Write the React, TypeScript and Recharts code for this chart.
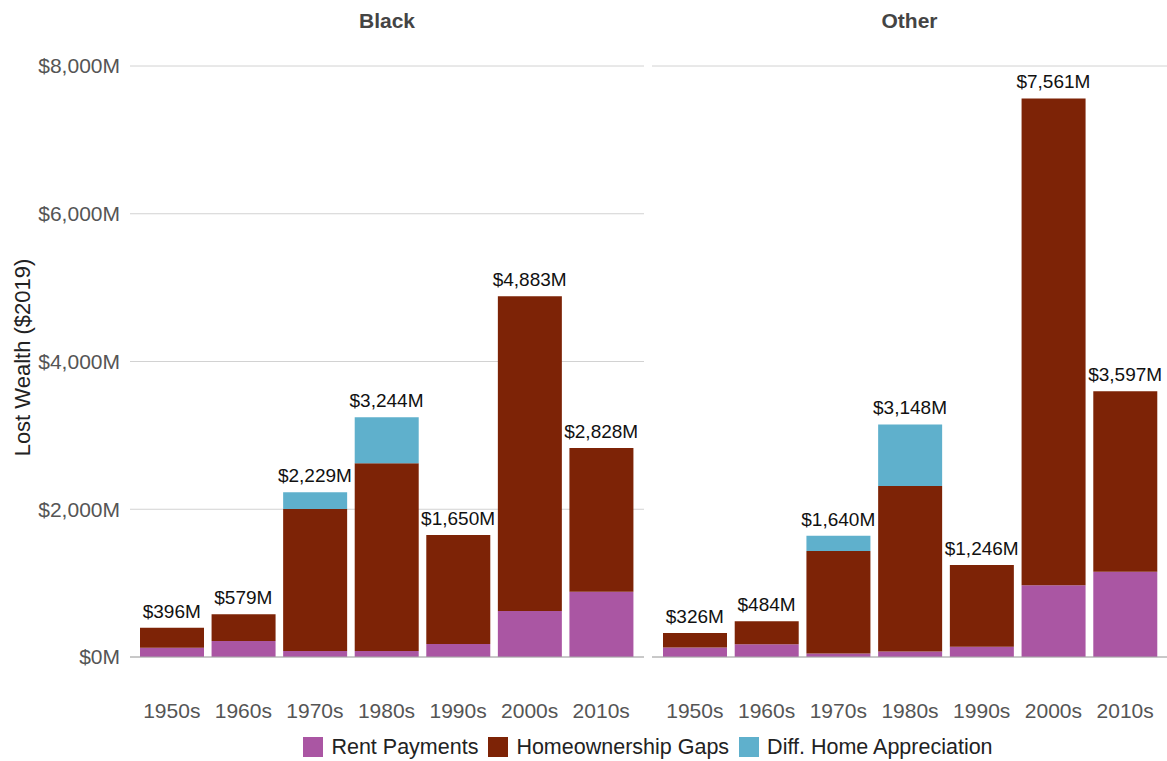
import React from 'react';
import { ComposedChart, Bar, Line, XAxis, YAxis, CartesianGrid, LabelList } from 'recharts';

const decades = ['1950s', '1960s', '1970s', '1980s', '1990s', '2000s', '2010s'];

const blackRent = [126, 217, 81, 80, 176, 623, 884];
const blackGaps = [270, 362, 1922, 2542, 1474, 4260, 1944];
const blackAppreciation = [0, 0, 226, 622, 0, 0, 0];
const blackTotals = [396, 579, 2229, 3244, 1650, 4883, 2828];

const otherRent = [127, 172, 47, 75, 140, 970, 1155];
const otherGaps = [199, 312, 1388, 2240, 1106, 6591, 2442];
const otherAppreciation = [0, 0, 205, 833, 0, 0, 0];
const otherTotals = [326, 484, 1640, 3148, 1246, 7561, 3597];

const yTicks = [0, 2000, 4000, 6000, 8000];

const PURPLE = '#aa56a3';
const RED = '#7d2306';
const TEAL = '#5fb0cc';
const FONT = '"Liberation Sans", Arial, Helvetica, sans-serif';

const fmtMoney = (v: any) => `$${Number(v).toLocaleString('en-US')}M`;

const buildRows = (rent: number[], gaps: number[], appr: number[], totals: number[]) =>
  decades.map((d, i) => ({ decade: d, rent: rent[i], gaps: gaps[i], appr: appr[i], total: totals[i] }));

const blackRows = buildRows(blackRent, blackGaps, blackAppreciation, blackTotals);
const otherRows = buildRows(otherRent, otherGaps, otherAppreciation, otherTotals);

type PanelProps = {
  rows: any[];
  left: number;
  width: number;
  showY: boolean;
  padLeft: number;
  padRight: number;
};

function Panel({ rows, left, width, showY, padLeft, padRight }: PanelProps) {
  return (
    <div style={{ position: 'absolute', left, top: 0 }}>
      <ComposedChart
        width={width}
        height={761}
        data={rows}
        margin={{ top: 66, right: showY ? 1 : 0, left: 0, bottom: 0 }}
        style={{ fontFamily: FONT }}
      >
        <CartesianGrid vertical={false} stroke="#d2d2d2" />
        <XAxis
          dataKey="decade"
          interval={0}
          tickLine={false}
          tickSize={0}
          tickMargin={46}
          height={104}
          axisLine={{ stroke: '#a8a8a8' }}
          tick={{ fontSize: 21, fill: '#555' }}
          padding={{ left: padLeft, right: padRight }}
        />
        {showY ? (
          <YAxis
            width={130}
            domain={[0, 8000]}
            ticks={yTicks}
            tickFormatter={fmtMoney}
            tickLine={false}
            tickSize={0}
            tickMargin={10}
            axisLine={false}
            tick={{ fontSize: 21, fill: '#555' }}
            label={{
              content: (p: any) => {
                const vb = p.viewBox || { y: 66, height: 591 };
                const cy = vb.y + vb.height / 2 - 4;
                return (
                  <text
                    x={22}
                    y={cy}
                    transform={`rotate(-90, 22, ${cy})`}
                    textAnchor="middle"
                    dominantBaseline="central"
                    fontSize={22}
                    fill="#222"
                    fontFamily={FONT}
                  >
                    Lost Wealth ($2019)
                  </text>
                );
              },
            }}
          />
        ) : (
          <YAxis width={0} domain={[0, 8000]} ticks={yTicks} tick={false} tickLine={false} axisLine={false} />
        )}
        <Bar dataKey="rent" stackId="s" fill={PURPLE} barSize={64} isAnimationActive={false} name="Rent Payments" />
        <Bar dataKey="gaps" stackId="s" fill={RED} barSize={64} isAnimationActive={false} name="Homeownership Gaps" />
        <Bar dataKey="appr" stackId="s" fill={TEAL} barSize={64} isAnimationActive={false} name="Diff. Home Appreciation" />
        <Line
          type="linear"
          dataKey="total"
          stroke="none"
          dot={false}
          activeDot={false}
          isAnimationActive={false}
          legendType="none"
        >
          <LabelList dataKey="total" position="top" offset={10} formatter={fmtMoney} fontSize={19} fill="#111" />
        </Line>
      </ComposedChart>
    </div>
  );
}

const legendItems = [
  { label: 'Rent Payments', color: PURPLE },
  { label: 'Homeownership Gaps', color: RED },
  { label: 'Diff. Home Appreciation', color: TEAL },
];

export default function App() {
  return (
    <div
      style={{
        position: 'absolute',
        left: 0,
        top: 0,
        width: 1167,
        height: 761,
        background: '#fff',
        fontFamily: FONT,
        overflow: 'hidden',
      }}
    >
      <Panel rows={blackRows} left={0} width={645} showY={true} padLeft={6} padRight={7} />
      <Panel rows={otherRows} left={652} width={515} showY={false} padLeft={7} padRight={6} />
      <div
        style={{
          position: 'absolute',
          left: 130,
          width: 514,
          top: 0,
          height: 42,
          lineHeight: '42px',
          textAlign: 'center',
          fontWeight: 'bold',
          fontSize: 21,
          color: '#444',
        }}
      >
        Black
      </div>
      <div
        style={{
          position: 'absolute',
          left: 652,
          width: 515,
          top: 0,
          height: 42,
          lineHeight: '42px',
          textAlign: 'center',
          fontWeight: 'bold',
          fontSize: 21,
          color: '#444',
        }}
      >
        Other
      </div>
      <div
        style={{
          position: 'absolute',
          left: 0,
          width: 1306,
          top: 735,
          height: 24,
          display: 'flex',
          justifyContent: 'center',
          alignItems: 'center',
          fontSize: 21.5,
          color: '#222',
        }}
      >
        {legendItems.map((it) => (
          <div key={it.label} style={{ display: 'flex', alignItems: 'center', marginRight: 10 }}>
            <div style={{ width: 20, height: 20, background: it.color, marginRight: 8 }} />
            <span>{it.label}</span>
          </div>
        ))}
      </div>
    </div>
  );
}
